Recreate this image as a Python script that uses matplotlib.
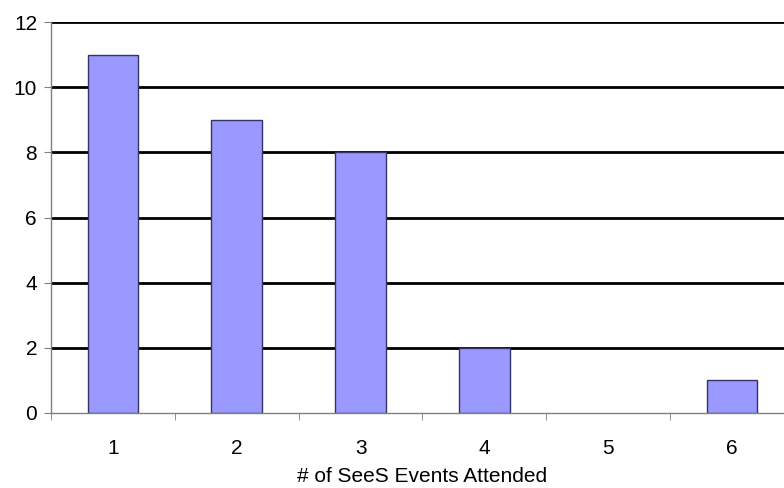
import matplotlib.pyplot as plt
import numpy as np

plt.rcParams["font.family"] = ["Liberation Sans", "DejaVu Sans"]

events = [1, 2, 3, 4, 5, 6]
counts = [11, 9, 8, 2, 0, 1]
yticks = [0, 2, 4, 6, 8, 10, 12]

fig = plt.figure(figsize=(7.84, 4.88), dpi=100)
# axis runs a little past the right edge of the figure
ax = fig.add_axes([51 / 784, 75 / 488, 743 / 784, 391 / 488])

for y in yticks[1:]:
    ax.axhline(y, color="black", lw=2, zorder=1)

bars = ax.bar(
    events, counts,
    width = 0.41,
    color = "#9999ff",
    edgecolor = "#333366",
    lw = 1,
    zorder = 2
    )
# empty categories get no outline
for b, c in zip(bars, counts):
    if c == 0:
        b.set_linewidth(0)

ax.set_xlim(0.5, 6.5)
ax.set_ylim(0, 12)
ax.set_yticks(yticks)
ax.set_xticks(events)
ax.set_xticks(np.arange(0.5, 7, 1), minor=True)
ax.tick_params(axis="x", which="major", length=0, pad=19, labelsize=15)
ax.tick_params(axis="x", which="minor", length=5, color="#808080", direction="out")
ax.tick_params(axis="y", length=5, color="#808080", pad=5, labelsize=15)

for side in ["top", "right"]:
    ax.spines[side].set_visible(False)
for side in ["left", "bottom"]:
    ax.spines[side].set_color("#808080")
    ax.spines[side].set_linewidth(1)

ax.set_xlabel("# of SeeS Events Attended", fontsize=15, labelpad=6)

fig.savefig("out.png", dpi=100)
